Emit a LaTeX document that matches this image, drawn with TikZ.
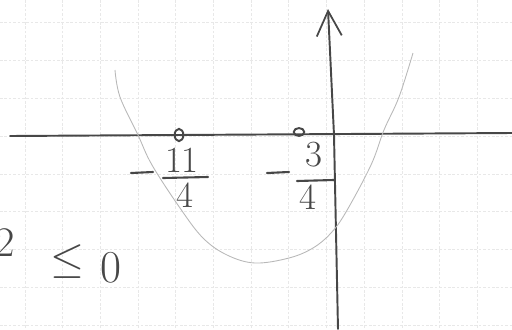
\documentclass[tikz,border=0pt]{standalone}
\usepackage{amsmath,amssymb}
\usepackage{tikz}
\usetikzlibrary{arrows.meta, shapes.geometric}

\begin{document}
\begin{tikzpicture}[
    x=0.02cm, y=-0.02cm,
    gridline/.style={draw=black!9, line width=0.5pt, dash pattern=on 1.5pt off 1pt},
    axis/.style={draw=black!72, line width=1.1pt, line cap=round},
    pen/.style={draw=black!72, line width=1.2pt, line cap=round},
    curve/.style={draw=black!28, line width=0.5pt},
    root/.style={draw=black!72, line width=1.1pt, ellipse, inner sep=0pt},
    hand/.style={text=black!72, inner sep=0pt, font=\fontsize{21}{25}\selectfont}
]
\useasboundingbox (0,0) rectangle (512,329);
\clip (0,0) rectangle (512,329);
% squared paper
\foreach \gx in {25,62.7,100.4,138.1,175.8,213.5,251.2,288.9,326.6,364.3,402,439.7,477.4}
    \draw [gridline] (\gx,0)--(\gx,329);
\foreach \gy in {22,60,98,136,174,211,249,287,325}
    \draw [gridline] (0,\gy)--(512,\gy);
% axes
\coordinate (xstart) at (10,136);
\coordinate (xend) at (512,133);
\coordinate (ybottom) at (338,329);
\coordinate (ytop) at (328,9);
\draw [axis] (xstart)--(xend);
\draw [axis, -{Straight Barb[length=5mm, width=5mm, line width=1pt]}] (ybottom)--(334,135)--(ytop);
% parabola
\draw [curve] plot [smooth, tension=0.6] coordinates {
    (115,70) (120,97) (138,135) (152,165) (180,208) (203,238) (227,255)
    (255,263) (289,258) (313,248) (331,233) (346,212) (371,165) (384,130)
    (399,97) (413,53)};
% roots
\node (r1) [root, minimum width=5pt, minimum height=7pt] at (179,135) {};
\node (r2) [root, minimum width=6pt, minimum height=4.5pt] at (299,132) {};
% -11/4
\node (n1) [hand] at (182,160) {11};
\node (d1) [hand] at (185,195) {4};
\draw [pen] (163,178)--(208,177);
\draw [pen] (131,173)--(153,172);
% -3/4
\node (n2) [hand] at (314,155) {3};
\node (d2) [hand] at (308,197) {4};
\draw [pen] (297,181)--(334,180);
\draw [pen] (267,173)--(289,172);
% inequality
\node (lhs) [hand, anchor=base east, font=\fontsize{24}{28}\selectfont] at (15,256) {2};
\node (leq) [hand, font=\fontsize{24}{28}\selectfont] at (67,262) {$\le$};
\node (zero) [hand, font=\fontsize{26}{30}\selectfont] at (111,268) {0};
\end{tikzpicture}
\end{document}
